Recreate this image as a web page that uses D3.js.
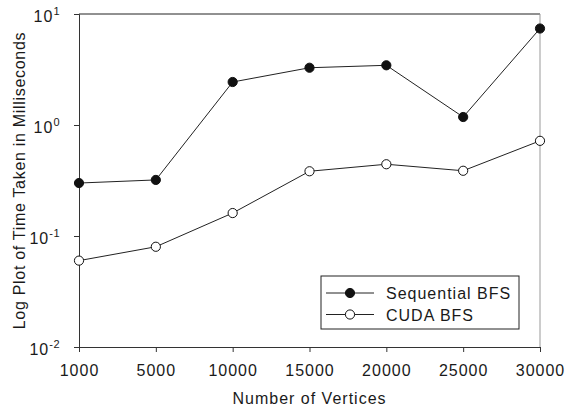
<!DOCTYPE html>
<html>
<head>
<meta charset="utf-8">
<script src="https://cdn.jsdelivr.net/npm/d3@7"></script>
<style>
body { margin: 0; background: #fff; }
text { font-family: "Liberation Sans", Arial, sans-serif; fill: #1a1a1a; }
</style>
</head>
<body>
<svg id="chart" width="566" height="412"></svg>
<script>
// vertex counts (categories on x axis)
var vertices = ["1000", "5000", "10000", "15000", "20000", "25000", "30000"];
// time taken in milliseconds
var sequentialBFS = [0.30, 0.32, 2.44, 3.28, 3.45, 1.18, 7.4];
var cudaBFS = [0.060, 0.080, 0.161, 0.383, 0.443, 0.387, 0.72];
// y tick exponents
var yExponents = [1, 0, -1, -2];

var svg = d3.select("#chart");
var margin = {top: 14, right: 26, bottom: 65, left: 79};
var width = 566 - margin.left - margin.right,
    height = 412 - margin.top - margin.bottom;

var g = svg.append("g").attr("transform", "translate(" + margin.left + "," + margin.top + ")");

var x = d3.scalePoint().domain(vertices).range([0, width]);
var y = d3.scaleLog().domain([0.01, 10]).range([height, 0]);

//frame: top black, right grey
g.append("line").attr("x1", 0).attr("x2", width).attr("y1", 0).attr("y2", 0)
  .attr("stroke", "#222").attr("stroke-width", 1);
g.append("line").attr("x1", width).attr("x2", width).attr("y1", 0).attr("y2", height)
  .attr("stroke", "#999").attr("stroke-width", 1);

//x axis
var xAxis = g.append("g")
  .attr("transform", "translate(0," + height + ")")
  .call(d3.axisBottom(x).tickSize(5).tickPadding(13));
xAxis.select(".domain").attr("stroke", "#333");
xAxis.selectAll(".tick line").attr("stroke", "#333");
xAxis.selectAll("text").style("font-size", "16px").style("letter-spacing", "1px")
  .style("font-family", "'Liberation Sans', Arial, sans-serif").attr("fill", "#1a1a1a");

//y axis with superscript labels
var yAxis = g.append("g")
  .call(d3.axisLeft(y).tickValues(yExponents.map(function(e) { return Math.pow(10, e); }))
    .tickSize(5).tickFormat(""));
yAxis.select(".domain").attr("stroke", "#333");
yAxis.selectAll(".tick line").attr("stroke", "#333");

var yLab = g.selectAll(".ylab")
  .data(yExponents)
  .enter().append("text")
  .attr("class", "ylab")
  .attr("x", -19)
  .attr("y", function(d) { return y(Math.pow(10, d)) + 8; })
  .attr("text-anchor", "end")
  .style("font-size", "16px").style("letter-spacing", "1px");
yLab.append("tspan").text("10");
yLab.append("tspan")
  .attr("dy", -7)
  .style("font-size", "11px").style("letter-spacing", "0.5px")
  .text(function(d) { return d; });

//lines
var line = d3.line()
  .x(function(d, i) { return x(vertices[i]); })
  .y(function(d) { return y(d); });

var series = [
  {name: "Sequential BFS", values: sequentialBFS, fill: "#111"},
  {name: "CUDA BFS", values: cudaBFS, fill: "#fff"}
];

series.forEach(function(s) {
  g.append("path")
    .datum(s.values)
    .attr("d", line)
    .attr("fill", "none")
    .attr("stroke", "#222")
    .attr("stroke-width", 1);
  g.selectAll(null)
    .data(s.values)
    .enter().append("circle")
    .attr("cx", function(d, i) { return x(vertices[i]); })
    .attr("cy", function(d) { return y(d); })
    .attr("r", 4.6)
    .attr("fill", s.fill)
    .attr("stroke", "#111")
    .attr("stroke-width", 1);
});

//legend
var legend = g.append("g").attr("transform", "translate(" + (321 - margin.left) + "," + (276 - margin.top) + ")");
legend.append("rect")
  .attr("width", 198).attr("height", 53)
  .attr("fill", "#fff").attr("stroke", "#222").attr("stroke-width", 1);
series.forEach(function(s, i) {
  var ly = 17 + i * 21.5;
  legend.append("line").attr("x1", 5).attr("x2", 53).attr("y1", ly).attr("y2", ly)
    .attr("stroke", "#222").attr("stroke-width", 1);
  legend.append("circle").attr("cx", 29).attr("cy", ly).attr("r", 4.6)
    .attr("fill", s.fill).attr("stroke", "#111");
  legend.append("text").attr("x", 65).attr("y", ly + 6)
    .style("font-size", "16px").style("letter-spacing", "1px").text(s.name);
});

//axis titles
svg.append("text")
  .attr("x", margin.left + width / 2).attr("y", 404)
  .attr("text-anchor", "middle")
  .style("font-size", "16px").style("letter-spacing", "1px")
  .text("Number of Vertices");

svg.append("text")
  .attr("transform", "translate(25," + (margin.top + height / 2) + ") rotate(-90)")
  .attr("text-anchor", "middle")
  .style("font-size", "16px").style("letter-spacing", "0.7px")
  .text("Log Plot of Time Taken in Milliseconds");
</script>
</body>
</html>
